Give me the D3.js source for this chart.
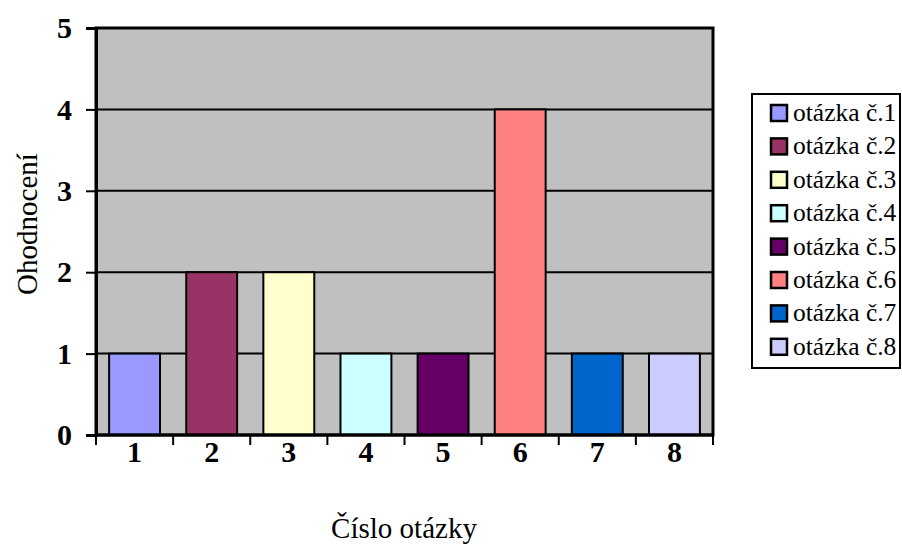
<!DOCTYPE html>
<html><head><meta charset="utf-8">
<script src="https://cdn.jsdelivr.net/npm/d3@7/dist/d3.min.js"></script>
<style>body{margin:0;background:#fff}svg{display:block}</style>
</head><body>
<svg id="c" width="902" height="545"></svg>
<script>
const categories = ["1","2","3","4","5","6","7","8"];
const values = [1,2,2,1,1,4,1,1];
const seriesNames = ["otázka č.1","otázka č.2","otázka č.3","otázka č.4","otázka č.5","otázka č.6","otázka č.7","otázka č.8"];
const colors = ["#9999FF","#993366","#FFFFCC","#CCFFFF","#660066","#FF8080","#0066CC","#CCCCFF"];
const yTicks = [0,1,2,3,4,5];
const xTitle = "Číslo otázky";
const yTitle = "Ohodnocení";

const svg = d3.select("#c");
const L = 96, R = 713, T = 28, B = 435;
const font = "'Liberation Serif','Times New Roman',serif";

const x = d3.scaleBand().domain(categories).range([L, R]).paddingInner(0.34).paddingOuter(0.17);
const y = d3.scaleLinear().domain([0, 5]).range([B, T]);

svg.append("rect").attr("x", L).attr("y", T).attr("width", R - L).attr("height", B - T).attr("fill", "#C0C0C0");

// gridlines
svg.append("g").selectAll("line").data(yTicks.filter(d => d > 0 && d < 5)).join("line")
  .attr("x1", L).attr("x2", R).attr("y1", d => y(d)).attr("y2", d => y(d))
  .attr("stroke", "#000").attr("stroke-width", 2);

// bars
svg.append("g").selectAll("rect").data(values).join("rect")
  .attr("x", (d, i) => x(categories[i]))
  .attr("y", d => y(d))
  .attr("width", x.bandwidth())
  .attr("height", d => y(0) - y(d))
  .attr("fill", (d, i) => colors[i])
  .attr("stroke", "#000").attr("stroke-width", 2);

// plot border
svg.append("rect").attr("x", L).attr("y", T).attr("width", R - L).attr("height", B - T)
  .attr("fill", "none").attr("stroke", "#000").attr("stroke-width", 3);

// y axis
const yAxis = d3.axisLeft(y).tickValues(yTicks).tickSize(10).tickPadding(14).tickFormat(d3.format("d"));
const gy = svg.append("g").attr("transform", `translate(${L},0)`).call(yAxis);
gy.select(".domain").attr("stroke", "#000").attr("stroke-width", 3);
gy.selectAll(".tick line").attr("stroke", "#000").attr("stroke-width", 2);
gy.selectAll(".tick text").attr("font-family", font).attr("font-weight", "bold").attr("font-size", 30).attr("fill", "#000");

// x axis: ticks at category boundaries, labels at centers
const step = x.step();
const bounds = d3.range(categories.length + 1).map(i => L + i * step);
const gx = svg.append("g");
gx.append("line").attr("x1", L).attr("x2", R).attr("y1", B).attr("y2", B).attr("stroke", "#000").attr("stroke-width", 3);
gx.selectAll("line.t").data(bounds).join("line").attr("class", "t")
  .attr("x1", d => d).attr("x2", d => d).attr("y1", B).attr("y2", B + 10)
  .attr("stroke", "#000").attr("stroke-width", 2);
gx.selectAll("text").data(categories).join("text")
  .attr("x", d => x(d) + x.bandwidth() / 2).attr("y", 462)
  .attr("text-anchor", "middle").attr("font-family", font).attr("font-weight", "bold").attr("font-size", 30)
  .text(d => d);

// titles
svg.append("text").attr("x", 404).attr("y", 538).attr("text-anchor", "middle")
  .attr("font-family", font).attr("font-size", 29).text(xTitle);
svg.append("text").attr("transform", "translate(37,224) rotate(-90)").attr("text-anchor", "middle")
  .attr("font-family", font).attr("font-size", 29).text(yTitle);

// legend
const lg = svg.append("g");
lg.append("rect").attr("x", 752).attr("y", 94).attr("width", 148).attr("height", 274)
  .attr("fill", "#fff").attr("stroke", "#000").attr("stroke-width", 2);
const items = lg.selectAll("g.it").data(seriesNames).join("g").attr("class", "it")
  .attr("transform", (d, i) => `translate(0,${113 + i * 33.4})`);
items.append("rect").attr("x", 771).attr("y", -8).attr("width", 16).attr("height", 16)
  .attr("fill", (d, i) => colors[i]).attr("stroke", "#000").attr("stroke-width", 2.5);
items.append("text").attr("x", 793).attr("y", 8).attr("font-family", font).attr("font-size", 25.5).text(d => d);
</script>
</body></html>
